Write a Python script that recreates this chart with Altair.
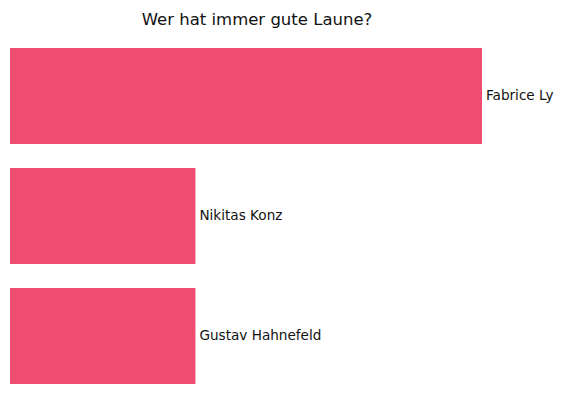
import altair as alt
import pandas as pd

names = ["Fabrice Ly", "Nikitas Konz", "Gustav Hahnefeld"]
values = [28, 11, 11]

df = pd.DataFrame({"name": names, "value": values})

base = alt.Chart(df).encode(
    y=alt.Y("name:N", sort=names, axis=None,
            scale=alt.Scale(paddingInner=0.2, paddingOuter=0)),
)

bars = base.mark_bar(color="#EF4E72").encode(
    x=alt.X("value:Q", axis=None, scale=alt.Scale(domain=[0, max(values)], nice=False)),
)

labels = base.mark_text(align="left", baseline="middle", dx=4, fontSize=13.6,
                        font="DejaVu Sans", color="#111111").encode(
    x=alt.X("value:Q"),
    text="name:N",
)

chart = (bars + labels).properties(
    width=472,
    height=336,
    title=alt.TitleParams("Wer hat immer gute Laune?", fontSize=16.5, font="DejaVu Sans",
                          fontWeight="normal", color="#111111", dx=11, offset=20),
    autosize=alt.AutoSizeParams(type="none"),
    padding={"left": 2, "top": 40, "right": 73, "bottom": 8},
).configure_view(stroke=None)

chart.save("out.html", embed_options={"renderer": "svg", "actions": False})
